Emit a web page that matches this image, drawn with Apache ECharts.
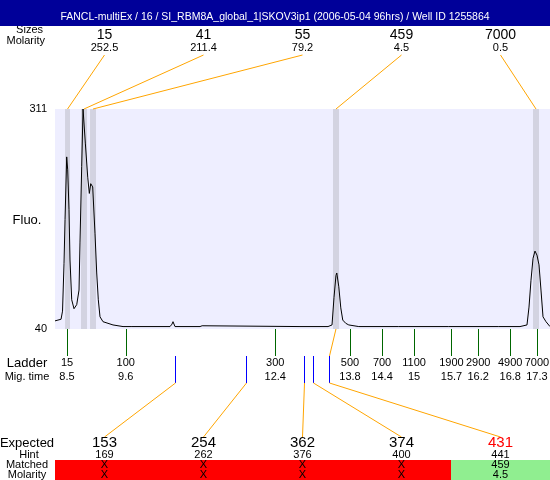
<!DOCTYPE html>
<html><head><meta charset="utf-8">
<script src="https://cdn.jsdelivr.net/npm/echarts@6/dist/echarts.min.js"></script>
<style>html,body{margin:0;padding:0;background:#fff}#c{width:550px;height:480px}</style>
</head><body><div id="c"></div>
<script>
const chartTitle = 'FANCL-multiEx / 16 / SI_RBM8A_global_1|SKOV3ip1 (2006-05-04 96hrs) / Well ID 1255864';
// electropherogram trace: migration time (s) and fluorescence
const traceTime = [8.275,8.331,8.388,8.416,8.444,8.463,8.494,8.513,8.537,8.556,8.588,8.631,8.682,8.725,8.743,8.775,8.800,8.818,8.843,8.888,8.918,8.944,8.981,9.024,9.056,9.086,9.118,9.174,9.361,9.549,9.700,9.717,9.735,10.429,10.466,10.485,10.522,10.991,11.03,11.06,12.863,13.388,13.463,13.500,13.537,13.552,13.590,13.627,13.664,13.720,13.777,13.964,14.713,15.649,16.586,16.983,17.114,17.152,17.189,17.227,17.264,17.301,17.339,17.376,17.414,17.470,17.545];
const traceFluo = [50,51,52,62,121,175,252,236,187,125,76,65,70,88,146,240,311,311,269,227,207,219,215,158,109,76,55,49,45,43,43,44.5,43,43,46,49,43,43,44,43,43,43,45,79,106,109,92,66,51,47,45,43,43,43,43,43,45,67,100,127,136,131,119,88,55,49,43];
const yTicks = [40, 311];
const timeRange = [8.275, 17.545];
// detected peaks
const peakStart = [8.463, 8.762, 8.931, 13.481, 17.227];
const peakEnd = [8.556, 8.875, 9.043, 13.594, 17.339];
const peakTime = [8.51, 8.818, 8.987, 13.537, 17.283];
const peakSize = ['15', '41', '55', '459', '7000'];
const peakMolarity = ['252.5', '211.4', '79.2', '4.5', '0.5'];
// ladder
const ladderSize = ['15','100','300','500','700','1100','1900','2900','4900','7000'];
const ladderTime = [8.5, 9.6, 12.4, 13.8, 14.4, 15, 15.7, 16.2, 16.8, 17.3];
// expected fragments
const expected = ['153', '254', '362', '374', '431'];
const hint = ['169', '262', '376', '400', '441'];
const hintTime = [10.52, 11.85, 12.93, 13.10, 13.40];
const matched = ['X', 'X', 'X', 'X', '459'];
const matchedMolarity = ['X', 'X', 'X', 'X', '4.5'];
const matchedPeak = [-1, -1, -1, -1, 3];

const FONT = '"Liberation Sans", Arial, sans-serif';
const ORANGE = '#FFA500';
const NSLOT = expected.length;

function T(x, y, s, size, color, align) {
  return {type: 'text', x: x, y: y, style: {text: s, fill: color || '#000', font: size + 'px ' + FONT, align: align || 'center', verticalAlign: 'middle'}};
}
function L(x1, y1, x2, y2, color) {
  return {type: 'line', shape: {x1: x1, y1: y1, x2: x2, y2: y2}, style: {stroke: color, lineWidth: 1}};
}
function slotX(cs, i) { return cs.x + (i + 0.5) * cs.width / NSLOT; }
function crisp(v) { return Math.round(v) + 0.5; }
function G(x, y, s, size, align) {
  return {type: 'text', z: 1, x: x, y: y, style: {text: s, fill: '#000', font: size + 'px ' + FONT, align: align || 'center', verticalAlign: 'middle'}};
}

const chart = echarts.init(document.getElementById('c'));
chart.setOption({
  animation: false,
  title: {text: chartTitle, left: 'center', top: 7, z: 10,
    textStyle: {color: '#fff', fontSize: 10.5, fontWeight: 'normal', fontFamily: FONT}},
  graphic: [
    G(43, 30, 'Sizes', 11, 'right'),
    {type: 'rect', z: 5, shape: {x: 0, y: 0, width: 550, height: 26}, style: {fill: '#000099'}},
    G(45, 41, 'Molarity', 11, 'right'),
    G(27, 220, 'Fluo.', 13),
    G(27, 363, 'Ladder', 13),
    G(27, 377, 'Mig. time', 11),
    G(27, 443, 'Expected', 13),
    G(29, 455, 'Hint', 11),
    G(27, 465, 'Matched', 11),
    G(27, 475, 'Molarity', 11)
  ],
  grid: {left: 55, right: 0, top: 109, height: 220, show: true, backgroundColor: '#EEEEFF', borderWidth: 0,
    containLabel: false, outerBoundsMode: 'none'},
  xAxis: [
    {type: 'value', min: timeRange[0], max: timeRange[1], show: false},
    {type: 'category', data: expected.map((e, i) => String(i)), show: false, boundaryGap: true}
  ],
  yAxis: {type: 'value', min: yTicks[0], max: yTicks[1],
    axisLine: {show: false}, axisTick: {show: false}, splitLine: {show: false},
    axisLabel: {customValues: yTicks, color: '#000', fontSize: 11, fontFamily: FONT, margin: 8}},
  series: [
    { // peak bands
      type: 'custom', xAxisIndex: 0, z: 1, clip: true, silent: true,
      data: peakStart.map((s, i) => [s, peakEnd[i]]),
      renderItem: function (params, api) {
        const a = api.coord([api.value(0), yTicks[1]]);
        const b = api.coord([api.value(1), yTicks[0]]);
        return {type: 'rect', shape: {x: a[0], y: a[1], width: b[0] - a[0], height: b[1] - a[1]}, style: {fill: '#D3D3E1'}};
      }
    },
    { // trace
      type: 'line', xAxisIndex: 0, z: 3, silent: true, showSymbol: false, symbol: 'none',
      lineStyle: {color: '#000', width: 1},
      data: traceTime.map((t, i) => [t, traceFluo[i]])
    },
    { // top peak connectors
      type: 'custom', xAxisIndex: 0, z: 4, clip: false, silent: true,
      data: peakTime.map(t => [t, yTicks[1]]),
      renderItem: function (params, api) {
        const cs = params.coordSys;
        const p = api.coord([api.value(0), yTicks[1]]);
        return L(slotX(cs, params.dataIndex), cs.y - 54, p[0], p[1], ORANGE);
      }
    },
    { // top peak labels
      type: 'custom', xAxisIndex: 1, z: 4, clip: false, silent: true,
      data: peakSize.map((s, i) => [i, yTicks[1]]),
      renderItem: function (params, api) {
        const p = api.coord([api.value(0), yTicks[1]]);
        const i = params.dataIndex;
        return {type: 'group', children: [
          T(p[0], p[1] - 74, peakSize[i], 14, '#000'),
          T(p[0], p[1] - 61, peakMolarity[i], 11, '#000')
        ]};
      }
    },
    { // ladder ticks
      type: 'custom', xAxisIndex: 0, z: 4, clip: false, silent: true,
      data: ladderTime.map(t => [t, yTicks[0]]),
      renderItem: function (params, api) {
        const p = api.coord([api.value(0), yTicks[0]]);
        const x = crisp(p[0]);
        const i = params.dataIndex;
        return {type: 'group', children: [
          L(x, p[1], x, p[1] + 27, '#006600'),
          T(p[0], p[1] + 34, ladderSize[i], 11, '#000'),
          T(p[0], p[1] + 48, String(ladderTime[i]), 11, '#000')
        ]};
      }
    },
    { // expected positions (hints) with connectors
      type: 'custom', xAxisIndex: 0, z: 4, clip: false, silent: true,
      data: hintTime.map(t => [t, yTicks[0]]),
      renderItem: function (params, api) {
        const cs = params.coordSys;
        const i = params.dataIndex;
        const p = api.coord([api.value(0), yTicks[0]]);
        const x = crisp(p[0]);
        const yb = p[1];
        const kids = [
          L(x, yb + 27, x, yb + 54, '#0000FF'),
          L(x, yb + 54, slotX(cs, i), yb + 108, ORANGE)
        ];
        if (matchedPeak[i] >= 0) {
          const q = api.coord([peakTime[matchedPeak[i]], yTicks[0]]);
          kids.push(L(x, yb + 27, q[0], q[1], ORANGE));
        }
        return {type: 'group', children: kids};
      }
    },
    { // expected table
      type: 'custom', xAxisIndex: 1, z: 4, clip: false, silent: true,
      data: expected.map((e, i) => [i, yTicks[0]]),
      renderItem: function (params, api) {
        const i = params.dataIndex;
        const p = api.coord([api.value(0), yTicks[0]]);
        const w = api.size([1, 0])[0];
        const yb = p[1];
        const ok = matchedPeak[i] >= 0;
        return {type: 'group', children: [
          {type: 'rect', shape: {x: p[0] - w / 2, y: yb + 131, width: w + 0.5, height: 20}, style: {fill: ok ? '#90EE90' : '#FF0000'}},
          T(p[0], yb + 114, expected[i], 15, ok ? '#FF0000' : '#000'),
          T(p[0], yb + 126, hint[i], 11, '#000'),
          T(p[0], yb + 136, matched[i], 11, '#000'),
          T(p[0], yb + 146, matchedMolarity[i], 11, '#000')
        ]};
      }
    }
  ]
});
</script></body></html>
